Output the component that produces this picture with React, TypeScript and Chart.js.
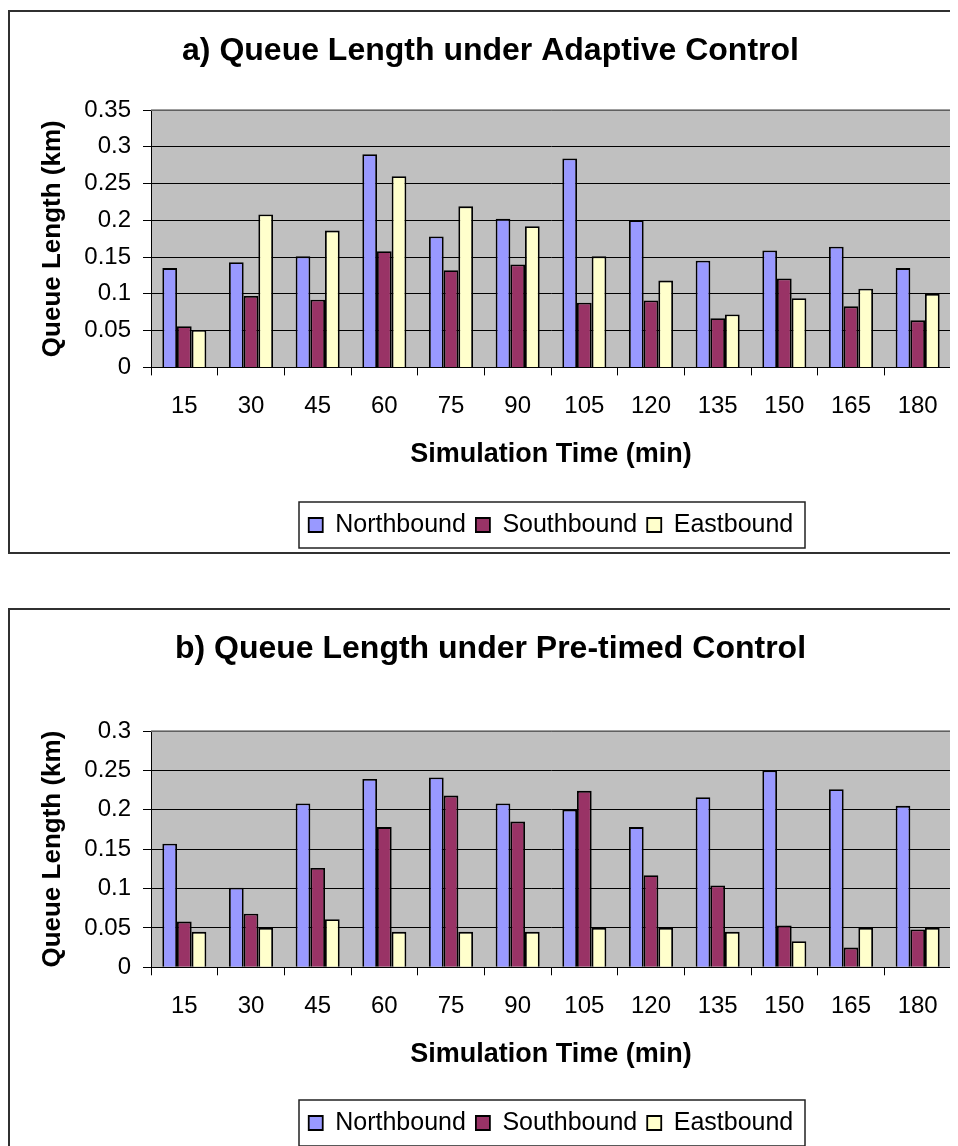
import React, { useEffect, useRef } from "react";
import { Chart, registerables } from "chart.js";

Chart.register(...registerables);

const categories = ["15", "30", "45", "60", "75", "90", "105", "120", "135", "150", "165", "180"];
const seriesNames = ["Northbound", "Southbound", "Eastbound"];
const seriesColors = ["#9999FF", "#993366", "#FFFFCC"];

const adaptiveNorth = [0.135, 0.143, 0.151, 0.29, 0.178, 0.202, 0.284, 0.2, 0.145, 0.159, 0.164, 0.135];
const adaptiveSouth = [0.056, 0.097, 0.092, 0.158, 0.132, 0.14, 0.088, 0.091, 0.067, 0.121, 0.083, 0.064];
const adaptiveEast = [0.051, 0.208, 0.186, 0.26, 0.219, 0.192, 0.151, 0.118, 0.072, 0.094, 0.107, 0.1];

const pretimedNorth = [0.157, 0.101, 0.208, 0.239, 0.241, 0.208, 0.2, 0.178, 0.216, 0.25, 0.226, 0.205];
const pretimedSouth = [0.058, 0.068, 0.126, 0.178, 0.218, 0.185, 0.224, 0.117, 0.104, 0.053, 0.025, 0.048];
const pretimedEast = [0.045, 0.05, 0.061, 0.045, 0.045, 0.045, 0.05, 0.05, 0.045, 0.033, 0.05, 0.05];

const FONT = '"Liberation Sans", Arial, Helvetica, sans-serif';

const framePlugin = {
  id: "excelFrame",
  beforeDraw(chart: any) {
    const { ctx, chartArea: a } = chart;
    ctx.save();
    ctx.fillStyle = "#C0C0C0";
    ctx.fillRect(a.left, a.top, a.right - a.left, a.bottom - a.top);
    ctx.restore();
  },
  afterDraw(chart: any) {
    const { ctx, chartArea: a } = chart;
    ctx.save();
    ctx.strokeStyle = "#808080";
    ctx.lineWidth = 1.5;
    ctx.beginPath();
    ctx.moveTo(a.left, a.top);
    ctx.lineTo(a.right, a.top);
    ctx.lineTo(a.right, a.bottom);
    ctx.stroke();
    const lg = chart.legend;
    if (lg && lg.legendHitBoxes && lg.legendHitBoxes.length) {
      const hb = lg.legendHitBoxes;
      const last = hb[hb.length - 1];
      const left = hb[0].left - 10;
      const right = last.left + last.width + 11;
      const cy = hb[0].top + hb[0].height / 2;
      ctx.strokeStyle = "#222";
      ctx.lineWidth = 1.5;
      ctx.strokeRect(Math.round(left), Math.round(cy - 23), Math.round(right - left), 46);
    }
    ctx.restore();
  },
};

type BoxProps = {
  title: string;
  north: number[];
  south: number[];
  east: number[];
  yMax: number;
  titlePadBottom: number;
  xTitlePadBottom: number;
  top: number;
};

function ChartBox(props: BoxProps) {
  const ref = useRef<HTMLCanvasElement | null>(null);
  useEffect(() => {
    if (!ref.current) return;
    const values = [props.north, props.south, props.east];
    const chart = new Chart(ref.current, {
      type: "bar",
      data: {
        labels: categories,
        datasets: seriesNames.map((name, i) => ({
          label: name,
          data: values[i],
          backgroundColor: seriesColors[i],
          borderColor: "#000",
          borderWidth: 1.8,
          categoryPercentage: 0.66,
          barPercentage: 1.0,
        })),
      },
      options: {
        animation: false,
        responsive: false,
        devicePixelRatio: 1,
        layout: { padding: { left: 20, right: 19, top: 0, bottom: 4.5 } },
        plugins: {
          title: {
            display: true,
            text: props.title,
            color: "#000",
            font: { family: FONT, size: 32, weight: "bold" },
            padding: { top: 20, bottom: props.titlePadBottom },
          },
          legend: {
            display: true,
            position: "bottom",
            fullSize: false,
            labels: {
              color: "#000",
              font: { family: FONT, size: 25 },
              boxWidth: 14,
              boxHeight: 14,
              padding: 10,
            },
          },
          tooltip: { enabled: false },
        },
        scales: {
          x: {
            grid: {
              display: true,
              drawOnChartArea: false,
              drawTicks: true,
              tickLength: 8,
              color: "#000",
              offset: true,
            },
            border: { display: true, color: "#000", width: 1 },
            ticks: {
              color: "#000",
              font: { family: FONT, size: 24 },
              padding: 17,
              maxRotation: 0,
            },
            title: {
              display: true,
              text: "Simulation Time (min)",
              color: "#000",
              font: { family: FONT, size: 27, weight: "bold" },
              padding: { top: 0, bottom: props.xTitlePadBottom },
            },
          },
          y: {
            min: 0,
            max: props.yMax,
            grid: {
              display: true,
              drawOnChartArea: true,
              drawTicks: true,
              tickLength: 8,
              color: "#000",
              lineWidth: 1,
            },
            border: { display: true, color: "#000", width: 1 },
            ticks: {
              stepSize: 0.05,
              color: "#000",
              font: { family: FONT, size: 24 },
              padding: 12,
              callback: (v: any) => String(Number(Number(v).toFixed(2))),
            },
            title: {
              display: true,
              text: "Queue Length (km)",
              color: "#000",
              font: { family: FONT, size: 26, weight: "bold" },
              padding: { top: 7.4, bottom: 3.7 },
            },
          },
        },
      },
      plugins: [framePlugin],
    } as any);
    return () => chart.destroy();
  }, []);
  return (
    <div
      style={{
        position: "absolute",
        left: 0,
        top: props.top,
        width: 960,
        height: 540,
        border: "2px solid #303030",
        background: "#fff",
      }}
    >
      <canvas ref={ref} width={960} height={540} style={{ display: "block", width: 960, height: 540 }} />
    </div>
  );
}

export default function App() {
  return (
    <>
      <style>{`html, body { overflow: hidden; }`}</style>
      <div style={{ position: "relative", width: 950, height: 1160, overflow: "hidden" }}>
        <ChartBox
          title="a) Queue Length under Adaptive Control"
          north={adaptiveNorth}
          south={adaptiveSouth}
          east={adaptiveEast}
          yMax={0.35}
          titlePadBottom={39.6}
          xTitlePadBottom={31.9}
          top={2}
        />
        <ChartBox
          title="b) Queue Length under Pre-timed Control"
          north={pretimedNorth}
          south={pretimedSouth}
          east={pretimedEast}
          yMax={0.3}
          titlePadBottom={62.6}
          xTitlePadBottom={30}
          top={600}
        />
      </div>
    </>
  );
}
